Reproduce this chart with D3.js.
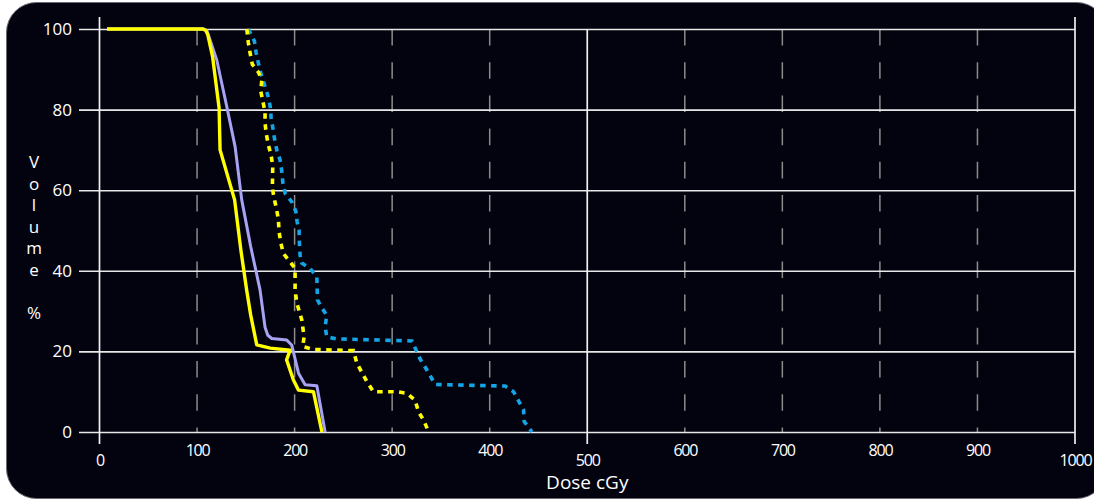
<!DOCTYPE html>
<html><head><meta charset="utf-8">
<script src="https://cdn.jsdelivr.net/npm/d3@7"></script>
<style>
html,body{margin:0;padding:0;background:#ffffff;}
svg{display:block;}
text{font-family:"Open Sans","Noto Sans",sans-serif;fill:#ffffff;}
</style></head>
<body>
<svg id="chart" width="1094" height="501"></svg>
<script>
// ---- data ----
const xTicks = [0,100,200,300,400,500,600,700,800,900,1000];
const majorXTicks = [0,500,1000];
const yTicks = [0,20,40,60,80,100];
const xTitle = "Dose cGy";
const yTitleLetters = ["V","o","l","u","m","e","","%"];

// [dose, volume] pairs
const yellowSolid = [[7.7,100],[106,100],[109,99.6],[111,98.6],[116,93],[122.6,80.4],[123.6,70],[138.5,57.6],[145,45],[151,35],[155,29],[161.2,21.6],[175,20.8],[195.4,20.3],[191.8,17.9],[198.8,12.9],[203.9,10.4],[219.3,10],[228,0]];
const lavenderSolid = [[7.7,100],[107,100],[110,99.6],[113,97.5],[120.2,92.3],[130.5,80.7],[139,70.8],[145.8,57.6],[155,46],[164.6,35.2],[169.7,26],[172.5,24],[176.6,23.2],[192,22.8],[197,21.6],[204,14.6],[210.8,11.7],[222.8,11.5],[231.3,0]];
const yellowDotted = [[151,100],[152.6,96.6],[154.4,94],[156.7,91.2],[162.9,89.3],[166.4,87.3],[165.3,84.6],[167.4,82.1],[169.7,79.5],[169.7,76.7],[170.8,74.2],[173.1,71.2],[175.9,68.7],[177.6,66],[177.2,60.5],[179,58],[181.7,55.1],[183.4,52.6],[184.1,49.7],[185.8,47],[188.5,44.3],[194.7,42.4],[200.5,40.6],[200.5,35.2],[202.3,32],[207.4,27.8],[209.7,23.6],[208.4,21.2],[219.3,20.5],[260.3,20.2],[263.8,17.1],[274.1,12.5],[280.8,10],[304.8,10],[315.1,9.6],[323.6,7.9],[327,5],[332.1,3],[337.5,0]];
const blueDotted = [[152.5,100],[158.8,97],[160.5,94.2],[162.9,91.5],[165.6,88.8],[169,86.3],[172.5,83.6],[174.9,80.9],[175.9,78.1],[177.6,75.6],[179.3,72.9],[181.7,70],[185.1,67.5],[186.9,64.6],[187.9,62],[190.3,59.2],[197.1,57.1],[201.2,54.8],[202.6,52.1],[204.6,50],[204.9,47],[205.6,43.9],[207.4,41.9],[215.9,40.6],[222.8,38.5],[223.4,32.8],[227.9,30.8],[233,29],[231.3,26.1],[233,23.6],[243.3,23.1],[320.2,22.6],[324.6,20.3],[328.7,18.1],[335.6,15.4],[344.1,11.8],[415.9,11.4],[424.4,10],[434.7,5.5],[435.4,2.6],[443.3,0]];

// ---- drawing ----
const svg = d3.select("#chart");
svg.append("rect").attr("x",6.5).attr("y",2.5).attr("width",1100).attr("height",496)
  .attr("rx",30).attr("ry",30).attr("fill","#03030f").attr("stroke","#6a6a70").attr("stroke-width",1);

const x = d3.scaleLinear().domain([0,1000]).range([99.5,1075]);
const y = d3.scaleLinear().domain([0,100]).range([432,29]);

// dashed vertical grid (minor)
svg.append("g").selectAll("line")
  .data(xTicks.filter(d=>!majorXTicks.includes(d)))
  .join("line")
  .attr("x1",d=>x(d)).attr("x2",d=>x(d))
  .attr("y1",y(100)).attr("y2",y(0))
  .attr("stroke","#8c8c8c").attr("stroke-width",1.5)
  .attr("stroke-dasharray","16.6,16.6");

// y axis with full-width gridlines
const yAxis = d3.axisLeft(y).tickValues(yTicks).tickSizeInner(-(1075-79)).tickSizeOuter(0).tickPadding(7);
const gy = svg.append("g").attr("transform","translate(79,0)").call(yAxis);
gy.select(".domain").remove();
gy.selectAll(".tick line").attr("stroke","#e8e8e8").attr("stroke-width",1.6);
gy.selectAll(".tick text").attr("fill","#ffffff").style("font-size","17px")
  .style("font-family","'Open Sans','Noto Sans',sans-serif");

// major verticals (0, 500, 1000)
svg.append("g").selectAll("line")
  .data(majorXTicks)
  .join("line")
  .attr("x1",d=>x(d)).attr("x2",d=>x(d))
  .attr("y1",d=>d===500 ? y(100) : 17).attr("y2",444)
  .attr("stroke","#f0f0f0").attr("stroke-width",1.7);

// x axis labels
const xAxis = d3.axisBottom(x).tickValues(xTicks).tickSize(0).tickPadding(0).tickFormat(d3.format("d"));
const gx = svg.append("g").attr("transform","translate(0,432)").call(xAxis);
gx.select(".domain").remove();
gx.selectAll(".tick line").remove();
gx.selectAll(".tick text")
  .attr("fill","#ffffff")
  .attr("dy",null)
  .attr("y",d=>majorXTicks.includes(d) ? 34 : 24)
  .style("font-size","16px")
  .style("letter-spacing","-1.2px")
  .style("font-family","'Open Sans','Noto Sans',sans-serif");

// titles
svg.append("text").attr("x",x(500)).attr("y",489).attr("text-anchor","middle")
  .style("font-size","19px").text(xTitle);
const yt = svg.append("text").attr("text-anchor","middle").style("font-size","17px");
yTitleLetters.forEach((ch,i)=>{
  yt.append("tspan").attr("x",34).attr("y",168+i*21.5).text(ch);
});

// curves
const line = d3.line().x(d=>x(d[0])).y(d=>y(d[1])).curve(d3.curveLinear);
svg.append("path").datum(lavenderSolid).attr("d",line).attr("fill","none")
  .attr("stroke","#a8a2f2").attr("stroke-width",3).attr("stroke-linejoin","round");
svg.append("path").datum(yellowSolid).attr("d",line).attr("fill","none")
  .attr("stroke","#ffff00").attr("stroke-width",3.4).attr("stroke-linejoin","round");
svg.append("path").datum(blueDotted).attr("d",line).attr("fill","none")
  .attr("stroke","#14a5e6").attr("stroke-width",3.6).attr("stroke-dasharray","5.5,5.5");
svg.append("path").datum(yellowDotted).attr("d",line).attr("fill","none")
  .attr("stroke","#ffff00").attr("stroke-width",3.6).attr("stroke-dasharray","5.5,5.5");
</script>
</body></html>
